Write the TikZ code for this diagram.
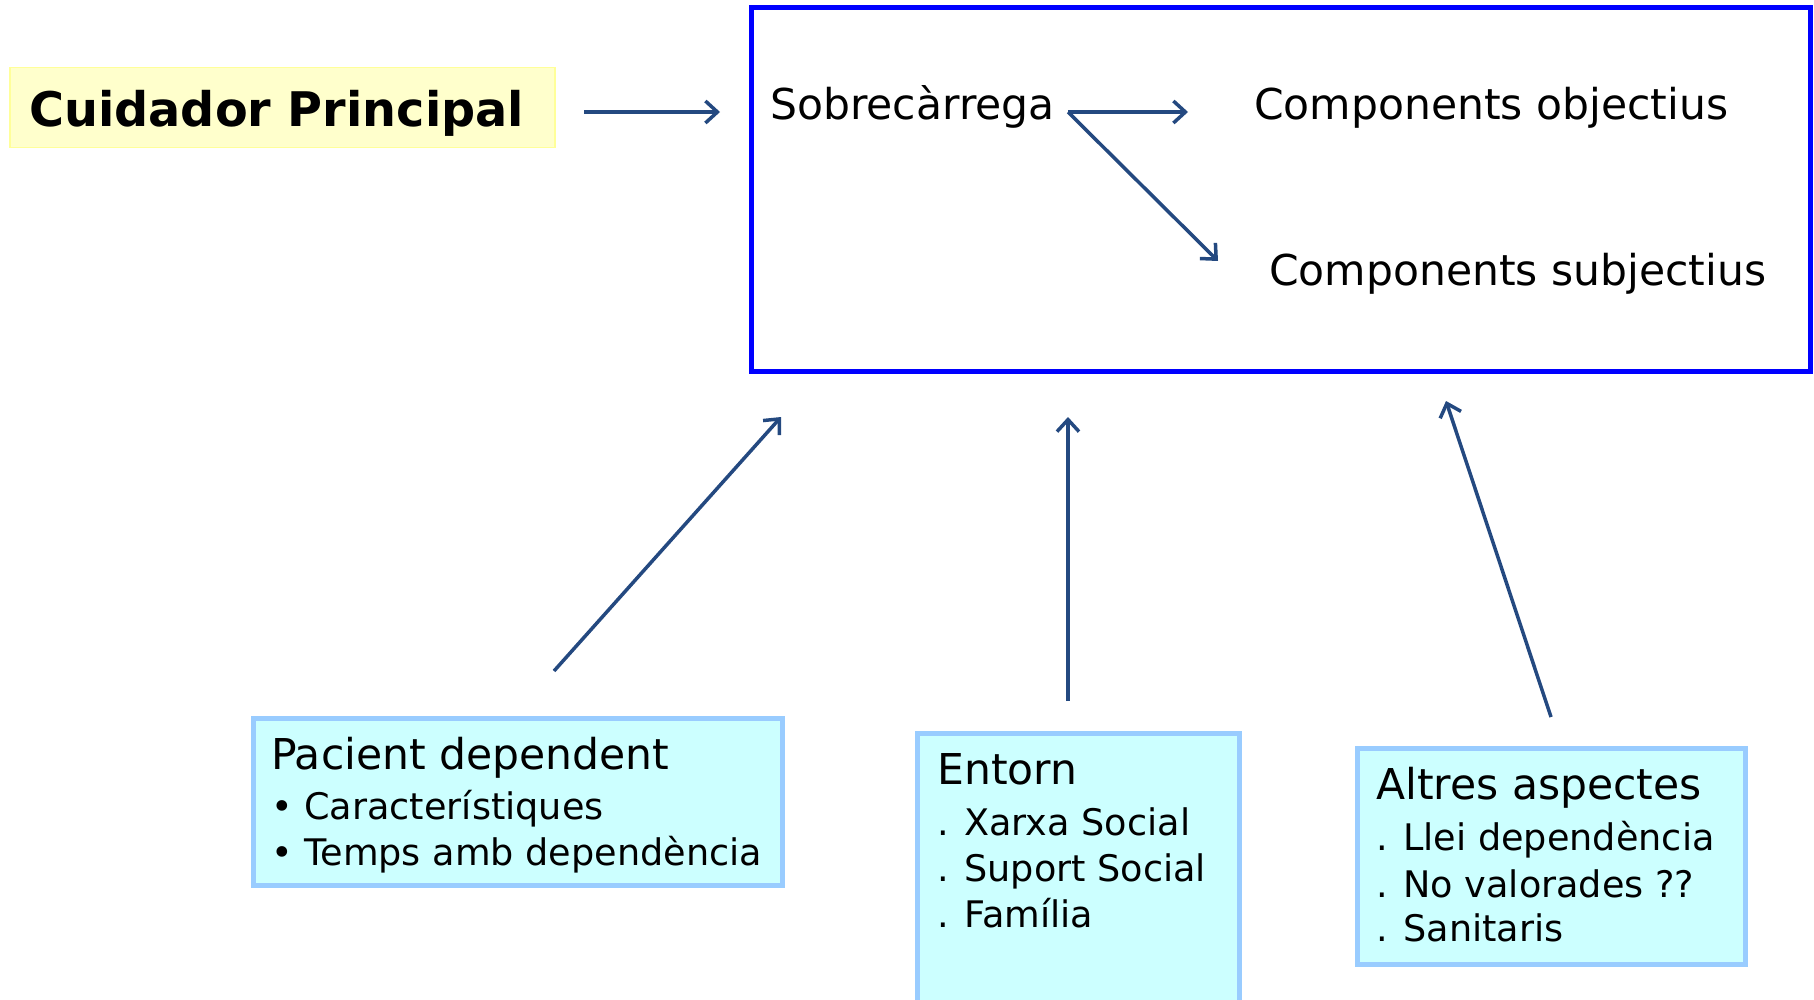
\documentclass[tikz,border=0pt]{standalone}
\usepackage{fontspec}
\setmainfont{DejaVu Sans}
\usetikzlibrary{arrows.meta}
\definecolor{fletxa}{RGB}{36,73,128}
\definecolor{marc}{RGB}{0,0,255}
\definecolor{fonsblau}{HTML}{CCFFFF}
\definecolor{vorablau}{HTML}{99CCFF}
\definecolor{fonsgroc}{HTML}{FFFFCC}
\definecolor{voragroc}{HTML}{FFFF99}

\begin{document}
\begin{tikzpicture}[x=1pt,y=-1pt,
    arr/.style={draw=fletxa,line width=3.5pt,-{Straight Barb[length=12pt,width=22pt]}},
    caixa/.style={draw=vorablau,line width=5pt,fill=fonsblau,anchor=north west},
    titol/.style={anchor=base west,inner sep=0pt,font=\fontsize{42.5}{50}\selectfont},
    punt/.style={anchor=base west,inner sep=0pt,font=\fontsize{36.6}{46}\selectfont}]
    \useasboundingbox (0,0) rectangle (1814,1000);

    % cuidador i marc principal
    \node[draw=voragroc,line width=1.5pt,fill=fonsgroc,minimum width=545pt,minimum height=80pt,anchor=north west] (cuidador) at (9,67) {};
    \node[anchor=base west,inner sep=0pt,font=\fontsize{47.7}{56}\selectfont\bfseries] (cuidtxt) at (29,127) {Cuidador Principal};
    \node[draw=marc,line width=5pt,minimum width=1059pt,minimum height=364pt,anchor=north west] (frame) at (749,5) {};
    \coordinate (cuidsort) at (584,112);
    \coordinate (cuidtip) at (720,112);
    \draw[arr] (cuidsort) -- (cuidtip);

    \node[titol] (sobre) at (770,120) {Sobrecàrrega};
    \node[titol] (objectius) at (1254,120) {Components objectius};
    \node[titol] (subjectius) at (1269,286) {Components subjectius};
    \coordinate (fork) at (1068,112);
    \coordinate (objtip) at (1188,112);
    \coordinate (subtip) at (1218,261);
    \draw[arr] (fork) -- (objtip);
    \draw[arr] (fork) -- (subtip);

    % caixes de baix
    \node[caixa,minimum width=529pt,minimum height=167pt] (pacient) at (251,716) {};
    \node[titol] (pac0) at (271,769) {Pacient dependent};
    \node[punt] (pac1) at (271,819) {• Característiques};
    \node[punt] (pac2) at (271,865) {• Temps amb dependència};

    \node[caixa,minimum width=322pt,minimum height=290pt] (entorn) at (915,731) {};
    \node[titol] (ent0) at (937,784) {Entorn};
    \node[punt] (ent1) at (937,835) {. Xarxa Social};
    \node[punt] (ent2) at (937,881) {. Suport Social};
    \node[punt] (ent3) at (937,927) {. Família};

    \node[caixa,minimum width=388pt,minimum height=216pt] (altres) at (1355,746) {};
    \node[titol] (alt0) at (1376,799) {Altres aspectes};
    \node[punt] (alt1) at (1376,850) {. Llei dependència};
    \node[punt] (alt2) at (1376,897) {. No valorades ??};
    \node[punt] (alt3) at (1376,941) {. Sanitaris};

    % fletxes cap al marc
    \coordinate (pacsort) at (554,671);
    \coordinate (pactip) at (781,417);
    \coordinate (entsort) at (1068,701);
    \coordinate (enttip) at (1068,417);
    \coordinate (altsort) at (1551,717);
    \coordinate (alttip) at (1446,401);
    \draw[arr] (pacsort) -- (pactip);
    \draw[arr] (entsort) -- (enttip);
    \draw[arr] (altsort) -- (alttip);
\end{tikzpicture}
\end{document}
